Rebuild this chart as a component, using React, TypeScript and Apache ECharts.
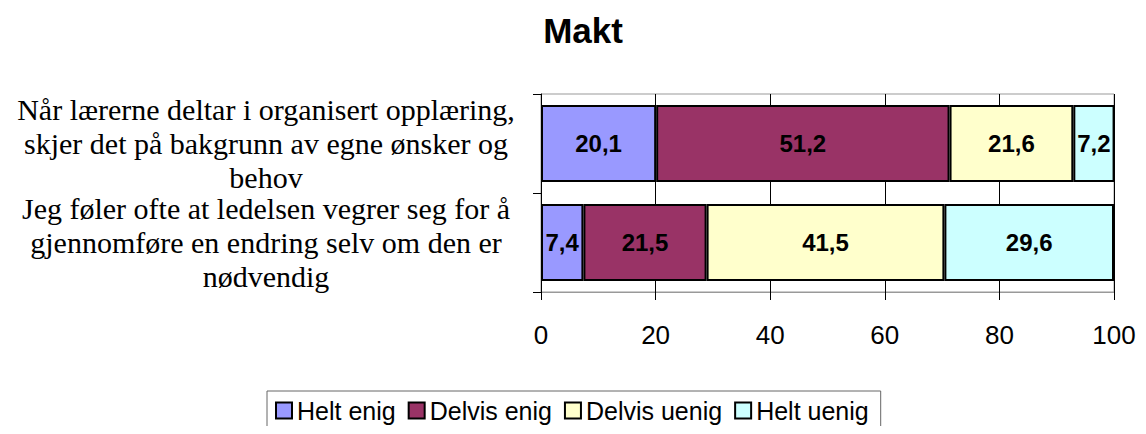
import React, { useEffect, useRef } from "react";
import * as echarts from "echarts";

const categories = [
  "Når lærerne deltar i organisert opplæring,\nskjer det på bakgrunn av egne ønsker og\nbehov",
  "Jeg føler ofte at ledelsen vegrer seg for å\ngjennomføre en endring selv om den er\nnødvendig",
];
const seriesNames = ["Helt enig", "Delvis enig", "Delvis uenig", "Helt uenig"];
const helEnig = [20.1, 7.4];
const delvisEnig = [51.2, 21.5];
const delvisUenig = [21.6, 41.5];
const heltUenig = [7.2, 29.6];
const xTicks = [0, 20, 40, 60, 80, 100];
const colors = ["#9999FF", "#993366", "#FFFFCC", "#CCFFFF"];

export default function App() {
  const ref = useRef<HTMLDivElement>(null);
  useEffect(() => {
    if (!ref.current) return;
    const chart = echarts.init(ref.current, null, { renderer: "svg" });
    const values = [helEnig, delvisEnig, delvisUenig, heltUenig];
    chart.setOption({
      animation: false,
      title: {
        text: "Makt",
        left: 578,
        textAlign: "center",
        top: 8,
        textStyle: { fontFamily: "Liberation Sans", fontSize: 35, fontWeight: "bold", color: "#000" },
      },
      grid: {
        left: 541,
        right: 32,
        top: 94,
        bottom: 142,
        show: true,
        borderColor: "#999",
        borderWidth: 1,
      },
      legend: {
        top: 391,
        left: 267,
        itemWidth: 16,
        itemHeight: 16,
        itemGap: 12,
        icon: "rect",
        padding: [7, 12, 40, 8],
        borderColor: "#666",
        borderWidth: 1,
        itemStyle: { borderColor: "#000", borderWidth: 2 },
        textStyle: { fontFamily: "Liberation Sans", fontSize: 25, color: "#000" },
        data: seriesNames,
      },
      xAxis: {
        type: "value",
        min: 0,
        max: 100,
        interval: 20,
        axisLine: { show: true, lineStyle: { color: "#999" } },
        axisTick: { show: true, length: 8, lineStyle: { color: "#000" } },
        splitLine: { show: true, lineStyle: { color: "#000", width: 1 } },
        axisLabel: {
          margin: 30,
          fontFamily: "Liberation Sans",
          fontSize: 26,
          color: "#000",
          formatter: (v: number) => (xTicks.includes(v) ? String(v) : ""),
        },
      },
      yAxis: {
        type: "category",
        inverse: true,
        data: categories,
        axisLine: { show: true, lineStyle: { color: "#000" } },
        axisTick: { show: true, length: 8, lineStyle: { color: "#000" } },
        axisLabel: {
          interval: 0,
          hideOverlap: false,
          align: "center",
          margin: 275,
          fontFamily: "Liberation Serif",
          fontSize: 30,
          lineHeight: 34,
          color: "#000",
        },
      },
      series: seriesNames.map((name, i) => ({
        name,
        type: "bar",
        stack: "total",
        barWidth: "78%",
        data: values[i],
        itemStyle: { color: colors[i], borderColor: "#000", borderWidth: 2 },
        label: {
          show: true,
          position: "inside",
          fontFamily: "Liberation Sans",
          fontSize: 24,
          fontWeight: "bold",
          color: "#000",
          formatter: (p: any) => p.value.toFixed(1).replace(".", ","),
        },
      })),
    });
    return () => chart.dispose();
  }, []);
  return <div ref={ref} style={{ width: 1146, height: 434, margin: -8 }} />;
}
